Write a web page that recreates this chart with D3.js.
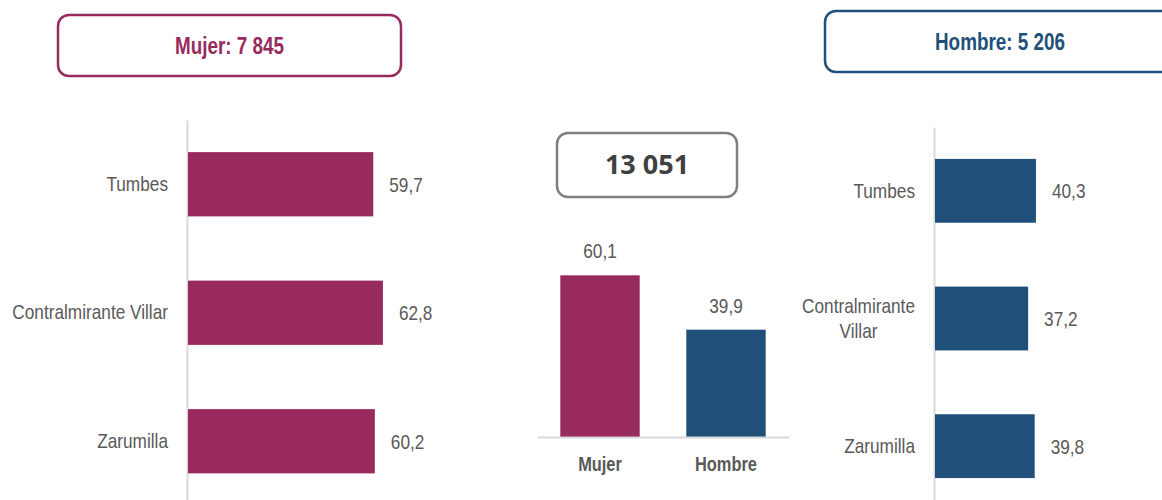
<!DOCTYPE html>
<html>
<head>
<meta charset="utf-8">
<script src="https://cdn.jsdelivr.net/npm/d3@7"></script>
<style>
    body { margin: 0; background: #ffffff; }
    svg text { font-family: "Liberation Sans Narrow", "Arial Narrow", "Liberation Sans", sans-serif; }
</style>
</head>
<body>
<div id="chart"></div>
<script>
// data
const provinces = ["Tumbes", "Contralmirante Villar", "Zarumilla"];
const mujerValues = [59.7, 62.8, 60.2];
const hombreValues = [40.3, 37.2, 39.8];
const sexCats = ["Mujer", "Hombre"];
const sexValues = [60.1, 39.9];
const mujerTotal = "Mujer: 7 845";
const hombreTotal = "Hombre: 5 206";
const grandTotal = "13 051";

const colMujer = "#982a5d", colHombre = "#20507a";
const textGray = "#595959", axisGray = "#d9d9d9";

const width = 1162, height = 500;

const svg = d3.select('#chart')
    .append('svg')
    .attr('width', width)
    .attr('height', height);

const fmt = d3.formatLocale({decimal: ",", thousands: " ", grouping: [3], currency: ["", ""]}).format(".1f");

// no narrow font installed: squeeze the glyphs like Arial Narrow
function narrow(sel) {
    sel.each(function () {
        const node = this;
        const spans = node.querySelectorAll("tspan");
        const targets = spans.length ? Array.from(spans) : [node];
        targets.forEach(t => {
            const len = t.getComputedTextLength();
            t.setAttribute("textLength", (len * 0.82).toFixed(1));
            t.setAttribute("lengthAdjust", "spacingAndGlyphs");
        });
    });
}

// header boxes
function headerBox(x, y, w, h, color, label, size) {
    svg.append("rect")
        .attr("x", x).attr("y", y)
        .attr("width", w).attr("height", h)
        .attr("rx", 11)
        .attr("fill", "#fff")
        .attr("stroke", color)
        .attr("stroke-width", 2.5);
    svg.append("text")
        .attr("x", x + w / 2)
        .attr("y", y + h / 2)
        .attr("dy", "0.35em")
        .style("text-anchor", "middle")
        .style("font-weight", "bold")
        .style("font-size", size + "px")
        .style("fill", color)
        .text(label)
        .call(narrow);
}
headerBox(58, 15, 343, 61, colMujer, mujerTotal, 23);
headerBox(825, 11, 350, 61, colHombre, hombreTotal, 23);

// horizontal bar chart (one per sex)
function hBars(values, color, axisX, yRange, k, wrapLong) {
    const x = d3.scaleLinear().domain([0, 100]).range([axisX, axisX + 100 * k]);
    const y = d3.scaleBand().domain(provinces).range(yRange)
        .paddingInner(0.5).paddingOuter(0.25);
    const data = provinces.map((p, i) => ({cat: p, value: values[i]}));

    const ax = svg.append("g")
        .attr("transform", `translate(${axisX},0)`)
        .call(d3.axisLeft(y).tickSize(0).tickPadding(19).tickSizeOuter(0));
    ax.select(".domain").attr("stroke", axisGray).attr("stroke-width", 2);
    ax.selectAll("text")
        .style("font-size", "21px")
        .style("fill", textGray)
        .style("font-family", null);

    if (wrapLong) {
        ax.selectAll(".tick text").each(function (d) {
            const words = d.split(" ");
            if (words.length < 2) return;
            const t = d3.select(this).text(null);
            const first = t.append("tspan").text(words[0]);
            const w = first.node().getComputedTextLength() * 0.82;
            const cx = -19 - w / 2;
            t.style("text-anchor", "middle");
            first.attr("x", cx).attr("dy", "-0.25em");
            t.append("tspan").attr("x", cx).attr("dy", "1.17em").text(words.slice(1).join(" "));
        });
    }
    ax.selectAll(".tick text").call(narrow);

    svg.append("g").selectAll("rect")
        .data(data)
        .join("rect")
        .attr("x", x(0) + 1)
        .attr("y", d => y(d.cat))
        .attr("width", d => x(d.value) - x(0) - 1)
        .attr("height", y.bandwidth())
        .attr("fill", color);

    svg.append("g").selectAll("text")
        .data(data)
        .join("text")
        .attr("x", d => x(d.value) + 16)
        .attr("y", d => y(d.cat) + y.bandwidth() / 2)
        .attr("dy", "0.35em")
        .style("font-size", "21px")
        .style("fill", textGray)
        .text(d => fmt(d.value))
        .call(narrow);
}
hBars(mujerValues, colMujer, 187, [120, 505.5], 3.12, false);
hBars(hombreValues, colHombre, 934, [127, 510], 2.53, true);

// middle column chart
const mx = d3.scaleBand().domain(sexCats).range([537, 789])
    .paddingInner(0.37).paddingOuter(0.185);
const my = d3.scaleLinear().domain([0, 100]).range([437, 437 - 269]);
const sexData = sexCats.map((c, i) => ({cat: c, value: sexValues[i]}));

svg.append("g").selectAll("rect")
    .data(sexData)
    .join("rect")
    .attr("x", d => mx(d.cat))
    .attr("y", d => my(d.value))
    .attr("width", mx.bandwidth())
    .attr("height", d => my(0) - my(d.value))
    .attr("fill", (d, i) => i === 0 ? colMujer : colHombre);

const bx = svg.append("g")
    .attr("transform", `translate(0,${my(0)})`)
    .call(d3.axisBottom(mx).tickSize(0).tickPadding(20).tickSizeOuter(0));
bx.select(".domain").attr("stroke", axisGray).attr("stroke-width", 2);
bx.selectAll("text")
    .style("font-size", "20px")
    .style("font-weight", "bold")
    .style("fill", textGray)
    .style("font-family", null)
    .call(narrow);

svg.append("g").selectAll("text")
    .data(sexData)
    .join("text")
    .attr("x", d => mx(d.cat) + mx.bandwidth() / 2)
    .attr("y", d => my(d.value) - 17)
    .style("text-anchor", "middle")
    .style("font-size", "21px")
    .style("fill", textGray)
    .text(d => fmt(d.value))
    .call(narrow);

// total box
svg.append("rect")
    .attr("x", 557).attr("y", 133)
    .attr("width", 180).attr("height", 64)
    .attr("rx", 11)
    .attr("fill", "#fff")
    .attr("stroke", "#7f7f7f")
    .attr("stroke-width", 2.5);
svg.append("text")
    .attr("x", 647).attr("y", 165)
    .attr("dy", "0.35em")
    .style("text-anchor", "middle")
    .style("font-family", "'Open Sans', sans-serif")
    .style("font-weight", "bold")
    .style("font-size", "27px")
    .style("fill", "#404040")
    .text(grandTotal);
</script>
</body>
</html>
